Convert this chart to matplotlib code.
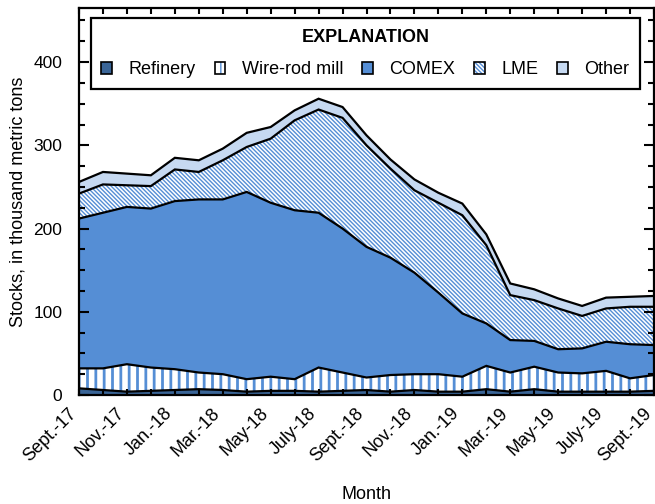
import matplotlib
matplotlib.use("Agg")
import matplotlib.pyplot as plt
from matplotlib.patches import Patch
from matplotlib.ticker import MultipleLocator
from matplotlib.transforms import ScaledTranslation
import numpy as np

plt.rcParams['font.family'] = ['Liberation Sans', 'DejaVu Sans']

months = ["Sept.-17", "Oct.-17", "Nov.-17", "Dec.-17", "Jan.-18", "Feb.-18", "Mar.-18",
          "Apr.-18", "May-18", "June-18", "July-18", "Aug.-18", "Sept.-18", "Oct.-18",
          "Nov.-18", "Dec.-18", "Jan.-19", "Feb.-19", "Mar.-19", "Apr.-19", "May-19",
          "June-19", "July-19", "Aug.-19", "Sept.-19"]

# cumulative tops (thousand metric tons)
refinery_top = [8, 6, 4, 5, 6, 7, 6, 4, 5, 5, 4, 5, 6, 4, 6, 4, 4, 7, 4, 7, 4, 4, 4, 4, 5]
wirerod_top = [32, 32, 37, 33, 31, 27, 25, 19, 22, 19, 33, 27, 21, 24, 25, 25, 22, 35, 27, 34, 27, 26, 29, 20, 24]
comex_top = [212, 219, 226, 224, 233, 235, 235, 244, 231, 222, 219, 200, 178, 165, 147, 123, 98, 86, 66, 65, 55, 56, 64, 61, 60]
lme_top = [242, 253, 252, 251, 271, 268, 282, 298, 308, 330, 343, 333, 300, 272, 246, 231, 216, 180, 120, 114, 104, 95, 104, 106, 106]
total_top = [256, 268, 266, 264, 285, 282, 296, 315, 322, 342, 356, 346, 312, 283, 259, 243, 230, 193, 134, 127, 116, 107, 117, 118, 119]

refinery = np.array(refinery_top)
wirerod = np.array(wirerod_top) - np.array(refinery_top)
comex = np.array(comex_top) - np.array(wirerod_top)
lme = np.array(lme_top) - np.array(comex_top)
other = np.array(total_top) - np.array(lme_top)

dark = "#3a6597"
mid = "#558ed5"
light = "#c6d9f1"
wire_hatch = "||"
lme_hatch = "\\" * 8

fig = plt.figure(figsize=(6.55, 5.04), dpi=100)
ax = fig.add_axes([79/655, 1-395/504, (654-79)/655, (395-8)/504])

x = np.arange(len(months))
layers = [refinery, wirerod, comex, lme, other]
base = np.zeros(len(x))
styles = [
    dict(facecolor=dark, hatch=None, hc=None, hlw=1.0),
    dict(facecolor="white", hatch=wire_hatch, hc=mid, hlw=2.0),
    dict(facecolor=mid, hatch=None, hc=None, hlw=1.0),
    dict(facecolor="white", hatch=lme_hatch, hc=mid, hlw=1.0),
    dict(facecolor=light, hatch=None, hc=None, hlw=1.0),
]


def make_hatched(fn, st, **kw):
    with plt.rc_context({'hatch.linewidth': st['hlw'], 'hatch.color': st['hc'] or 'black'}):
        art = fn(**kw)
        if hasattr(art, 'set_hatch_linewidth'):
            art.set_hatch_linewidth(st['hlw'])
    return art


tops = []
for vals, st in zip(layers, styles):
    top = base + vals
    make_hatched(lambda **kw: ax.fill_between(x, base, top, **kw), st,
                 facecolor=st['facecolor'],
                 edgecolor=st['hc'] if st['hatch'] else 'none',
                 hatch=st['hatch'], linewidth=0)
    tops.append(top)
    base = top

for top in tops:
    ax.plot(x, top, color="black", lw=1.6, solid_joinstyle='miter')

ax.set_xlim(0, len(x) - 1)
ax.set_ylim(0, 465)
ax.set_xticks(x[::2])
ax.set_xticklabels(months[::2], rotation=45, ha='right', rotation_mode='anchor', fontsize=13)
ax.xaxis.set_minor_locator(MultipleLocator(1))
ax.set_yticks([0, 100, 200, 300, 400])
ax.yaxis.set_minor_locator(MultipleLocator(25))
ax.tick_params(axis='both', which='both', direction='in', top=True, right=True, width=1.5)
ax.tick_params(axis='y', which='major', length=7, pad=12, labelsize=12.5)
ax.tick_params(axis='y', which='minor', length=4.5)
ax.tick_params(axis='x', which='both', length=4.5)
ax.tick_params(axis='x', which='major', pad=6)
for s in ax.spines.values():
    s.set_linewidth(1.6)

shift = ScaledTranslation(-8/72, -1/72, fig.dpi_scale_trans)
for tick in ax.xaxis.get_major_ticks():
    tick.label1.set_transform(tick.label1.get_transform() + shift)

ax.set_ylabel("Stocks, in thousand metric tons", fontsize=13, labelpad=5)
ax.set_xlabel("Month", fontsize=13, labelpad=15)

# legend handles
h_ref = Patch(facecolor=dark, edgecolor='black', linewidth=1.2)
h_wire = (make_hatched(lambda **kw: Patch(**kw), styles[1], facecolor='white', edgecolor=mid,
                       hatch='||', linewidth=0),
          Patch(facecolor='none', edgecolor='black', linewidth=1.2))
h_comex = Patch(facecolor=mid, edgecolor='black', linewidth=1.2)
h_lme = (make_hatched(lambda **kw: Patch(**kw), styles[3], facecolor='white', edgecolor=mid,
                      hatch=lme_hatch, linewidth=0),
         Patch(facecolor='none', edgecolor='black', linewidth=1.2))
h_other = Patch(facecolor=light, edgecolor='black', linewidth=1.2)

leg = ax.legend([h_ref, h_wire, h_comex, h_lme, h_other],
                ['Refinery', 'Wire-rod mill', 'COMEX', 'LME', 'Other'],
                loc='upper center', bbox_to_anchor=(0.498, 0.974), ncol=5,
                title="EXPLANATION", title_fontproperties={'weight': 'bold', 'size': 13},
                fontsize=13, frameon=True, fancybox=False, edgecolor='black',
                handlelength=0.6, handleheight=0.6, handletextpad=0.9, columnspacing=1.05,
                borderpad=0.6, labelspacing=0.85, framealpha=1, borderaxespad=0)
leg.get_frame().set_linewidth(1.6)

fig.savefig("out.png", dpi=100)
